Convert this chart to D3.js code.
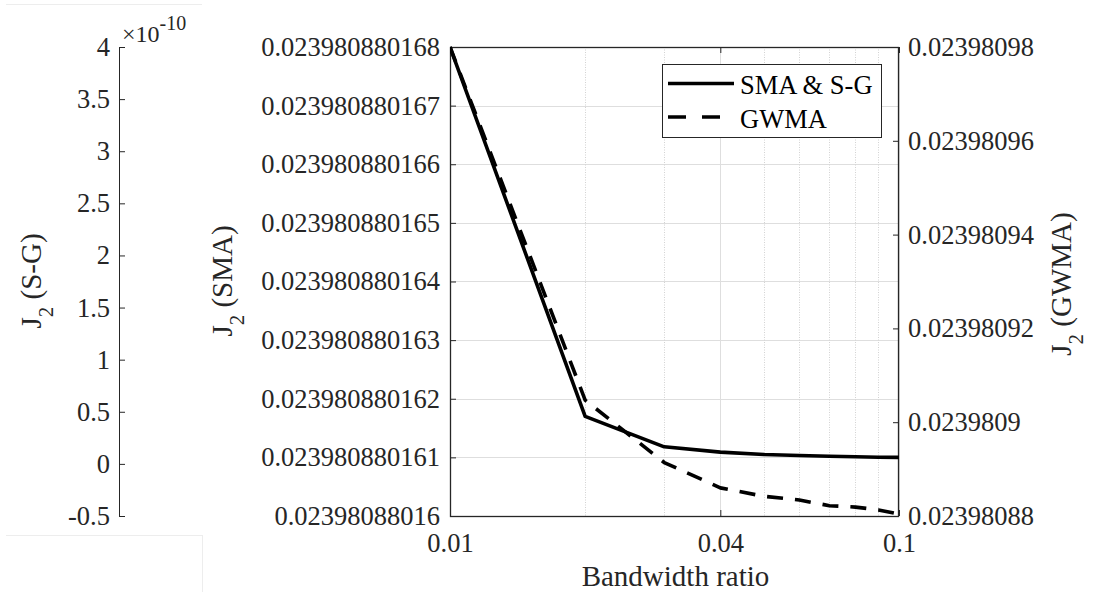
<!DOCTYPE html>
<html>
<head>
<meta charset="utf-8">
<script src="https://cdn.jsdelivr.net/npm/d3@7"></script>
<style>
  html, body { margin: 0; padding: 0; background: #ffffff; }
</style>
</head>
<body>
<svg id="chart" width="1097" height="592"></svg>
<script>
// ---- data ----
const bandwidthRatio = [0.01, 0.02, 0.03, 0.04, 0.05, 0.06, 0.07, 0.08, 0.09, 0.1];

// J2 for the simple moving average (identical curve for Savitzky-Golay)
const j2SMA = [
  0.023980880168,
  0.0239808801617,
  0.02398088016118,
  0.02398088016109,
  0.02398088016105,
  0.023980880161032,
  0.023980880161018,
  0.02398088016101,
  0.023980880161003,
  0.023980880161
];

// J2 for the Gaussian weighted moving average
const j2GWMA = [
  0.02398098,
  0.0239809047,
  0.0239808914,
  0.023980886,
  0.0239808842,
  0.0239808834,
  0.0239808822,
  0.0239808819,
  0.0239808813,
  0.0239808804
];

const seriesNames = ["SMA & S-G", "GWMA"];

const xTicks = [0.01, 0.04, 0.1];
const xTickLabels = ["0.01", "0.04", "0.1"];
const xMinorGrid = [0.02, 0.03, 0.05, 0.06, 0.07, 0.08, 0.09];

const smaTicks = [
  0.02398088016, 0.023980880161, 0.023980880162, 0.023980880163, 0.023980880164,
  0.023980880165, 0.023980880166, 0.023980880167, 0.023980880168
];
const smaTickLabels = [
  "0.02398088016", "0.023980880161", "0.023980880162", "0.023980880163", "0.023980880164",
  "0.023980880165", "0.023980880166", "0.023980880167", "0.023980880168"
];

const gwmaTicks = [0.02398088, 0.0239809, 0.02398092, 0.02398094, 0.02398096, 0.02398098];
const gwmaTickLabels = ["0.02398088", "0.0239809", "0.02398092", "0.02398094", "0.02398096", "0.02398098"];

// S-G axis, in units of 1e-10
const sgTicks = [-0.5, 0, 0.5, 1, 1.5, 2, 2.5, 3, 3.5, 4];
const sgTickLabels = ["-0.5", "0", "0.5", "1", "1.5", "2", "2.5", "3", "3.5", "4"];

// ---- layout ----
const W = 1097, H = 592;
const plot = { left: 450, right: 899, top: 47, bottom: 516 };
const sgAxisX = 119;
const axisColor = "#262626";
const fontFamily = '"Liberation Serif"';
const tickFont = 26.5;
const labelFont = 29;

const svg = d3.select("#chart").style("font-family", fontFamily);
svg.append("rect").attr("width", W).attr("height", H).attr("fill", "#ffffff");

// faint frame lines around the S-G axis panel
const frame = svg.append("g").attr("stroke", "#ededed").attr("stroke-width", 1).attr("fill", "none");
frame.append("line").attr("x1", 6).attr("x2", 202).attr("y1", 4.5).attr("y2", 4.5);
frame.append("line").attr("x1", 6).attr("x2", 202).attr("y1", 535.5).attr("y2", 535.5);
frame.append("line").attr("x1", 202.5).attr("x2", 202.5).attr("y1", 535).attr("y2", H);

// ---- scales ----
const x = d3.scaleLog().domain([xTicks[0], xTicks[xTicks.length - 1]]).range([plot.left, plot.right]);
const ySMA = d3.scaleLinear().domain([smaTicks[0], smaTicks[smaTicks.length - 1]]).range([plot.bottom, plot.top]);
const yGWMA = d3.scaleLinear().domain([gwmaTicks[0], gwmaTicks[gwmaTicks.length - 1]]).range([plot.bottom, plot.top]);
const ySG = d3.scaleLinear().domain([sgTicks[0], sgTicks[sgTicks.length - 1]]).range([plot.bottom, plot.top]);

// ---- grid ----
const grid = svg.append("g");
grid.selectAll("line.hgrid").data(smaTicks).join("line")
  .attr("class", "hgrid")
  .attr("x1", plot.left).attr("x2", plot.right)
  .attr("y1", d => Math.round(ySMA(d)) + 0.5).attr("y2", d => Math.round(ySMA(d)) + 0.5)
  .attr("stroke", "#dedede").attr("stroke-width", 1);
grid.selectAll("line.vminor").data(xMinorGrid).join("line")
  .attr("class", "vminor")
  .attr("x1", d => Math.round(x(d)) + 0.5).attr("x2", d => Math.round(x(d)) + 0.5)
  .attr("y1", plot.top).attr("y2", plot.bottom)
  .attr("stroke", "#d2d2d2").attr("stroke-width", 1).attr("stroke-dasharray", "1,1.5");
grid.selectAll("line.vmajor").data(xTicks).join("line")
  .attr("class", "vmajor")
  .attr("x1", d => Math.round(x(d)) + 0.5).attr("x2", d => Math.round(x(d)) + 0.5)
  .attr("y1", plot.top).attr("y2", plot.bottom)
  .attr("stroke", "#dedede").attr("stroke-width", 1);

// ---- axes ----
function styleAxis(g) {
  g.attr("font-family", null).style("font-family", fontFamily);
  g.select(".domain").remove();
  g.selectAll(".tick line").attr("stroke", axisColor).attr("stroke-width", 1);
  g.selectAll(".tick text").attr("fill", axisColor).attr("font-size", tickFont)
    .style("font-family", fontFamily);
}

svg.append("g").attr("transform", `translate(${plot.left},0)`)
  .call(d3.axisLeft(ySMA).tickValues(smaTicks).tickFormat((d, i) => smaTickLabels[i])
    .tickSizeInner(-6).tickSizeOuter(0).tickPadding(10))
  .call(styleAxis);

svg.append("g").attr("transform", `translate(${plot.right},0)`)
  .call(d3.axisRight(yGWMA).tickValues(gwmaTicks).tickFormat((d, i) => gwmaTickLabels[i])
    .tickSizeInner(-6).tickSizeOuter(0).tickPadding(9))
  .call(styleAxis);

svg.append("g").attr("transform", `translate(0,${plot.bottom})`)
  .call(d3.axisBottom(x).tickValues(xTicks).tickFormat((d, i) => xTickLabels[i])
    .tickSizeInner(-6).tickSizeOuter(0).tickPadding(17))
  .call(styleAxis);

svg.append("g").attr("transform", `translate(0,${plot.top})`)
  .call(d3.axisTop(x).tickValues(xTicks).tickFormat("")
    .tickSizeInner(-6).tickSizeOuter(0))
  .call(styleAxis);

// standalone S-G axis
const sgAxis = svg.append("g").attr("transform", `translate(${sgAxisX},0)`)
  .call(d3.axisLeft(ySG).tickValues(sgTicks).tickFormat((d, i) => sgTickLabels[i])
    .tickSizeInner(-6).tickSizeOuter(0).tickPadding(9));
sgAxis.attr("font-family", null).style("font-family", fontFamily);
sgAxis.select(".domain").attr("stroke", axisColor).attr("stroke-width", 1);
sgAxis.selectAll(".tick line").attr("stroke", axisColor);
sgAxis.selectAll(".tick text").attr("fill", axisColor).attr("font-size", tickFont)
  .style("font-family", fontFamily);

// exponent label of the S-G axis
const expo = svg.append("text").attr("x", 122).attr("y", 42)
  .attr("fill", axisColor).attr("font-size", 24).style("font-family", fontFamily);
expo.append("tspan").text("\u00d710");
expo.append("tspan").attr("dy", -12).attr("font-size", 20).text("-10");

// plot box
svg.append("rect")
  .attr("x", plot.left + 0.5).attr("y", plot.top + 0.5)
  .attr("width", plot.right - plot.left - 1).attr("height", plot.bottom - plot.top)
  .attr("fill", "none").attr("stroke", axisColor).attr("stroke-width", 1.3);

// ---- data lines ----
const clipId = "plotClip";
svg.append("clipPath").attr("id", clipId).append("rect")
  .attr("x", plot.left).attr("y", plot.top - 3)
  .attr("width", plot.right - plot.left).attr("height", plot.bottom - plot.top + 6);

const lineSMA = d3.line().x((d, i) => x(bandwidthRatio[i])).y(d => ySMA(d));
const lineGWMA = d3.line().x((d, i) => x(bandwidthRatio[i])).y(d => yGWMA(d));

const lines = svg.append("g").attr("clip-path", `url(#${clipId})`);
lines.append("path").datum(j2GWMA).attr("d", lineGWMA)
  .attr("fill", "none").attr("stroke", "#000").attr("stroke-width", 3.6)
  .attr("stroke-dasharray", "16,12").attr("stroke-linejoin", "round");
lines.append("path").datum(j2SMA).attr("d", lineSMA)
  .attr("fill", "none").attr("stroke", "#000").attr("stroke-width", 3.6)
  .attr("stroke-linejoin", "round");

// ---- axis labels ----
function yLabel(xPos, yPos, name) {
  const t = svg.append("text")
    .attr("transform", `translate(${xPos},${yPos}) rotate(-90)`)
    .attr("text-anchor", "middle").attr("fill", axisColor).attr("font-size", labelFont)
    .style("font-family", fontFamily);
  t.append("tspan").text("J");
  t.append("tspan").attr("dy", 12).attr("font-size", 21).text("2");
  t.append("tspan").attr("dy", -12).text("\u00a0(" + name + ")");
}
yLabel(41, 281, "S-G");
yLabel(232, 281, "SMA");
yLabel(1071, 284, "GWMA");

svg.append("text").attr("x", (plot.left + plot.right) / 2 + 1).attr("y", 586)
  .attr("text-anchor", "middle").attr("fill", axisColor).attr("font-size", labelFont)
  .style("font-family", fontFamily)
  .text("Bandwidth ratio");

// ---- legend ----
const legend = svg.append("g");
legend.append("rect").attr("x", 662.5).attr("y", 64.5).attr("width", 219).attr("height", 73)
  .attr("fill", "#ffffff").attr("stroke", axisColor).attr("stroke-width", 1);
const legendRows = [
  { name: seriesNames[0], dash: null, y: 83.5 },
  { name: seriesNames[1], dash: "18,16", y: 117 }
];
legendRows.forEach(r => {
  legend.append("line").attr("x1", 668).attr("x2", 734).attr("y1", r.y).attr("y2", r.y)
    .attr("stroke", "#000").attr("stroke-width", 3.6)
    .attr("stroke-dasharray", r.dash);
  legend.append("text").attr("x", 740).attr("y", r.y + 10.5)
    .attr("fill", "#000").attr("font-size", tickFont).style("font-family", fontFamily)
    .text(r.name);
});
</script>
</body>
</html>
